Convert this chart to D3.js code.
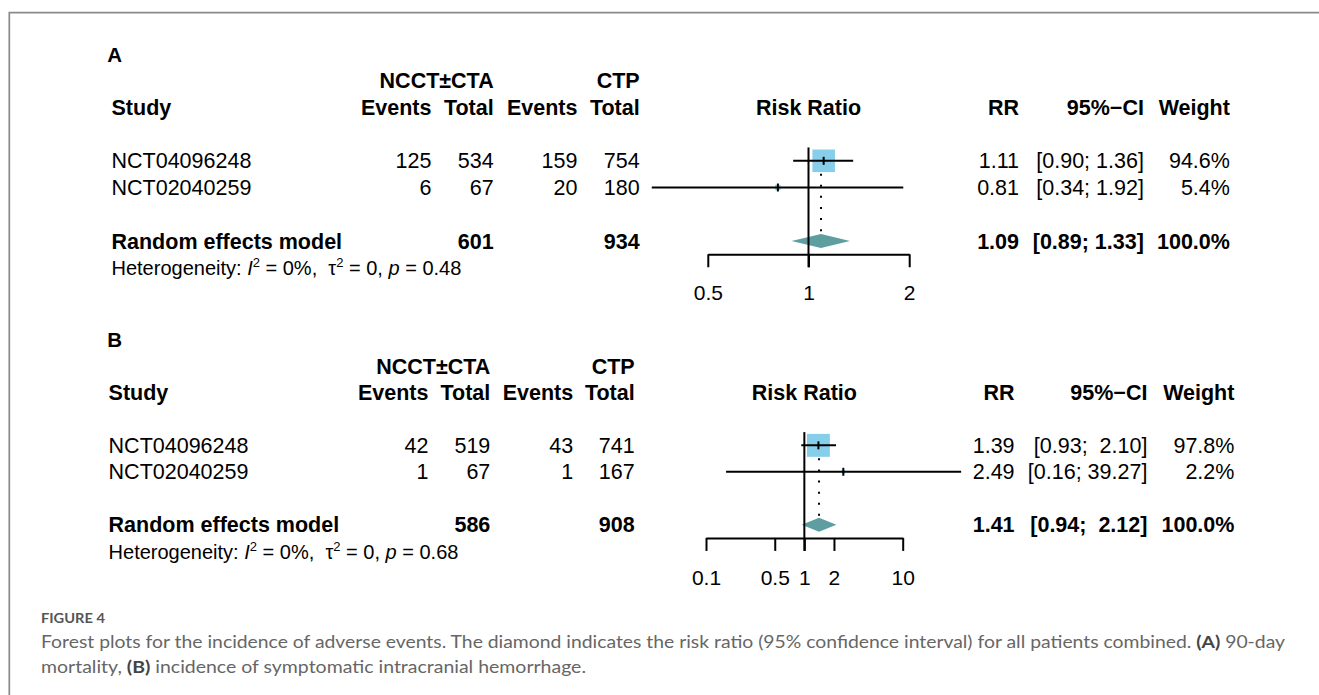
<!DOCTYPE html>
<html>
<head>
<meta charset="utf-8">
<script src="https://cdn.jsdelivr.net/npm/d3@7"></script>
<style>
  body { margin: 0; background: #fff; }
  svg { display: block; }
  text { white-space: pre; }
</style>
</head>
<body>
<svg id="chart" width="1319" height="695"></svg>
<script>
// ---- Study data ----
const studies = ["NCT04096248", "NCT02040259"];

// (A) 90-day mortality
const eventsNcctA = [125, 6];
const totalNcctA  = [534, 67];
const eventsCtpA  = [159, 20];
const totalCtpA   = [754, 180];
const rrA         = [1.11, 0.81];
const lowerA      = [0.90, 0.34];
const upperA      = [1.36, 1.92];
const weightA     = [94.6, 5.4];
const pooledA     = [1.09, 0.89, 1.33];   // RR, lower, upper
const pooledTotalsA = [601, 934];
const hetA        = ["0%", "0", "0.48"];  // I², tau², p
const ticksA      = [0.5, 1, 2];

// (B) symptomatic intracranial hemorrhage
const eventsNcctB = [42, 1];
const totalNcctB  = [519, 67];
const eventsCtpB  = [43, 1];
const totalCtpB   = [741, 167];
const rrB         = [1.39, 2.49];
const lowerB      = [0.93, 0.16];
const upperB      = [2.10, 39.27];
const weightB     = [97.8, 2.2];
const pooledB     = [1.41, 0.94, 2.12];
const pooledTotalsB = [586, 908];
const hetB        = ["0%", "0", "0.68"];
const ticksB      = [0.1, 0.5, 1, 2, 10];

const FONT = "'Liberation Sans', Arial, Helvetica, sans-serif";
const SQUARE = "#87ceeb";
const DIAMOND = "#5f9ea0";

const svg = d3.select("#chart");

// figure frame (top and left edges)
svg.append("path")
  .attr("d", "M9.3,700V12.7H1325")
  .attr("fill", "none")
  .attr("stroke", "#8a8a8a")
  .attr("stroke-width", 1.7);

// square side grows with the square root of the study weight
const sizeScale = d3.scaleSqrt().domain([0, 100]).range([0, 23.2]);

function drawPanel(p) {
  const g = svg.append("g")
    .attr("font-family", FONT)
    .attr("font-size", 21.5)
    .attr("fill", "#000");

  const yb = i => p.base + i * p.step;      // text baseline of line i
  const yc = i => yb(i) - 7.6;              // vertical centre of marks on line i

  const txt = (x, y, s, anchor, bold, size) => {
    const t = g.append("text").attr("x", x).attr("y", y)
      .attr("text-anchor", anchor || "start").text(s);
    if (bold) t.attr("font-weight", "bold");
    if (size) t.attr("font-size", size);
    return t;
  };

  // panel letter
  txt(107.3, yb(-1), p.letter, "start", true, 20.5);

  // column headers
  txt(p.cols[1], yb(0), "NCCT±CTA", "end", true);
  txt(p.cols[3], yb(0), "CTP", "end", true);
  txt(p.studyX, yb(1), "Study", "start", true);
  ["Events", "Total", "Events", "Total"].forEach((h, k) => txt(p.cols[k], yb(1), h, "end", true));
  txt((p.range[0] + p.range[1]) / 2, yb(1), "Risk Ratio", "middle", true);
  txt(p.rrX, yb(1), "RR", "end", true);
  txt(p.ciX, yb(1), "95%\u2212CI", "end", true);
  txt(p.wtX, yb(1), "Weight", "end", true);

  // confidence-interval labels, padded so the brackets line up
  const allLo = p.lower.concat([p.pooled[1]]).map(v => v.toFixed(2));
  const allHi = p.upper.concat([p.pooled[2]]).map(v => v.toFixed(2));
  const wLo = d3.max(allLo, s => s.length), wHi = d3.max(allHi, s => s.length);
  const ciLabel = (lo, hi) => "[" + lo.toFixed(2).padStart(wLo, " ") + "; " + hi.toFixed(2).padStart(wHi, " ") + "]";

  // study rows
  p.studies.forEach((name, i) => {
    const y = yb(3 + i);
    txt(p.studyX, y, name);
    [p.evN[i], p.totN[i], p.evC[i], p.totC[i]].forEach((v, k) => txt(p.cols[k], y, String(v), "end"));
    txt(p.rrX, y, p.rr[i].toFixed(2), "end");
    txt(p.ciX, y, ciLabel(p.lower[i], p.upper[i]), "end");
    txt(p.wtX, y, p.weight[i].toFixed(1) + "%", "end");
  });

  // pooled row
  const yp = yb(6);
  txt(p.studyX, yp, "Random effects model", "start", true);
  txt(p.cols[1], yp, String(p.pooledTotals[0]), "end", true);
  txt(p.cols[3], yp, String(p.pooledTotals[1]), "end", true);
  txt(p.rrX, yp, p.pooled[0].toFixed(2), "end", true);
  txt(p.ciX, yp, ciLabel(p.pooled[1], p.pooled[2]), "end", true);
  txt(p.wtX, yp, d3.sum(p.weight).toFixed(1) + "%", "end", true);

  // heterogeneity statement
  const het = g.append("text").attr("x", p.studyX).attr("y", yb(7)).attr("font-size", 20);
  het.append("tspan").text("Heterogeneity: ");
  het.append("tspan").attr("font-style", "italic").text("I");
  het.append("tspan").attr("dy", -8).attr("font-size", 13).text("2");
  het.append("tspan").attr("dy", 8).text(" = " + p.het[0] + ",  ");
  het.append("tspan").text("\u03c4");
  het.append("tspan").attr("dy", -8).attr("font-size", 13).text("2");
  het.append("tspan").attr("dy", 8).text(" = " + p.het[1] + ", ");
  het.append("tspan").attr("font-style", "italic").text("p");
  het.append("tspan").text(" = " + p.het[2]);

  // ---- forest plot ----
  const x = d3.scaleLog().domain(p.domain).range(p.range);
  const top = yc(3) - p.step / 2;
  const axisY = yc(6) + p.step / 2;
  const tick = 13;

  // dotted line at the pooled estimate
  const period = 11.1, gap0 = 4;
  g.append("line")
    .attr("x1", x(p.pooled[0])).attr("x2", x(p.pooled[0]))
    .attr("y1", top).attr("y2", yc(6) - 7)
    .attr("stroke", "#000").attr("stroke-width", 2)
    .attr("stroke-dasharray", `2 ${period - 2}`)
    .attr("stroke-dashoffset", period - gap0);

  // study squares
  p.studies.forEach((name, i) => {
    const s = sizeScale(p.weight[i]);
    g.append("rect")
      .attr("x", x(p.rr[i]) - s / 2).attr("y", yc(3 + i) - s / 2)
      .attr("width", s).attr("height", s)
      .attr("fill", SQUARE);
  });

  // confidence intervals and point-estimate ticks
  p.studies.forEach((name, i) => {
    const y = yc(3 + i);
    g.append("line")
      .attr("x1", x(p.lower[i])).attr("x2", x(p.upper[i]))
      .attr("y1", y).attr("y2", y)
      .attr("stroke", "#000").attr("stroke-width", 2);
    g.append("line")
      .attr("x1", x(p.rr[i])).attr("x2", x(p.rr[i]))
      .attr("y1", y - 4).attr("y2", y + 4)
      .attr("stroke", "#000").attr("stroke-width", 2);
  });

  // pooled diamond
  const yd = yc(6), hd = 7;
  g.append("polygon")
    .attr("points", [
      [x(p.pooled[1]), yd], [x(p.pooled[0]), yd - hd],
      [x(p.pooled[2]), yd], [x(p.pooled[0]), yd + hd]
    ].map(d => d.join(",")).join(" "))
    .attr("fill", DIAMOND);

  // line of no effect
  g.append("line")
    .attr("x1", x(1)).attr("x2", x(1))
    .attr("y1", top).attr("y2", axisY + tick)
    .attr("stroke", "#000").attr("stroke-width", 2);

  // axis
  const ax = g.append("g")
    .attr("transform", `translate(0,${axisY})`)
    .call(d3.axisBottom(x)
      .tickValues(p.ticks)
      .tickFormat(d3.format(""))
      .tickSize(tick)
      .tickSizeOuter(0)
      .tickPadding(p.labelPad));
  ax.attr("font-family", FONT).attr("font-size", 21);
  ax.selectAll("path, line").attr("stroke", "#000").attr("stroke-width", 2);
  ax.selectAll("text").attr("fill", "#000");
}

drawPanel({
  letter: "A", base: 88.3, step: 26.7, studyX: 111.5,
  cols: [431.4, 493.7, 577.4, 639.7],
  domain: [0.5, 2], range: [707.8, 909.2], labelPad: 17.8,
  rrX: 1019, ciX: 1143.9, wtX: 1229.9,
  studies: studies, evN: eventsNcctA, totN: totalNcctA, evC: eventsCtpA, totC: totalCtpA,
  rr: rrA, lower: lowerA, upper: upperA, weight: weightA,
  pooled: pooledA, pooledTotals: pooledTotalsA, het: hetA, ticks: ticksA
});

drawPanel({
  letter: "B", base: 373.6, step: 26.45, studyX: 108.6,
  cols: [428.5, 490.3, 573.2, 634.7],
  domain: [0.1, 10], range: [706, 902.7], labelPad: 19,
  rrX: 1014.6, ciX: 1147.4, wtX: 1234.4,
  studies: studies, evN: eventsNcctB, totN: totalNcctB, evC: eventsCtpB, totC: totalCtpB,
  rr: rrB, lower: lowerB, upper: upperB, weight: weightB,
  pooled: pooledB, pooledTotals: pooledTotalsB, het: hetB, ticks: ticksB
});

// ---- caption ----
const CAP_FONT = "Lato, 'Open Sans', sans-serif";
svg.append("text")
  .attr("x", 41).attr("y", 623)
  .attr("font-family", CAP_FONT).attr("font-weight", 700).attr("font-size", 14)
  .attr("fill", "#555")
  .attr("textLength", 64).attr("lengthAdjust", "spacingAndGlyphs")
  .text("FIGURE 4");

const cap1 = svg.append("text")
  .attr("x", 41).attr("y", 648)
  .attr("font-family", CAP_FONT).attr("font-size", 17).attr("fill", "#666")
  .attr("textLength", 1244).attr("lengthAdjust", "spacingAndGlyphs");
cap1.append("tspan").text("Forest plots for the incidence of adverse events. The diamond indicates the risk ratio (95% confidence interval) for all patients combined. ");
cap1.append("tspan").attr("font-weight", 700).attr("fill", "#444").text("(A)");
cap1.append("tspan").text(" 90-day");

const cap2 = svg.append("text")
  .attr("x", 41).attr("y", 673)
  .attr("font-family", CAP_FONT).attr("font-size", 17).attr("fill", "#666")
  .attr("textLength", 545).attr("lengthAdjust", "spacingAndGlyphs");
cap2.append("tspan").text("mortality, ");
cap2.append("tspan").attr("font-weight", 700).attr("fill", "#444").text("(B)");
cap2.append("tspan").text(" incidence of symptomatic intracranial hemorrhage.");
</script>
</body>
</html>
